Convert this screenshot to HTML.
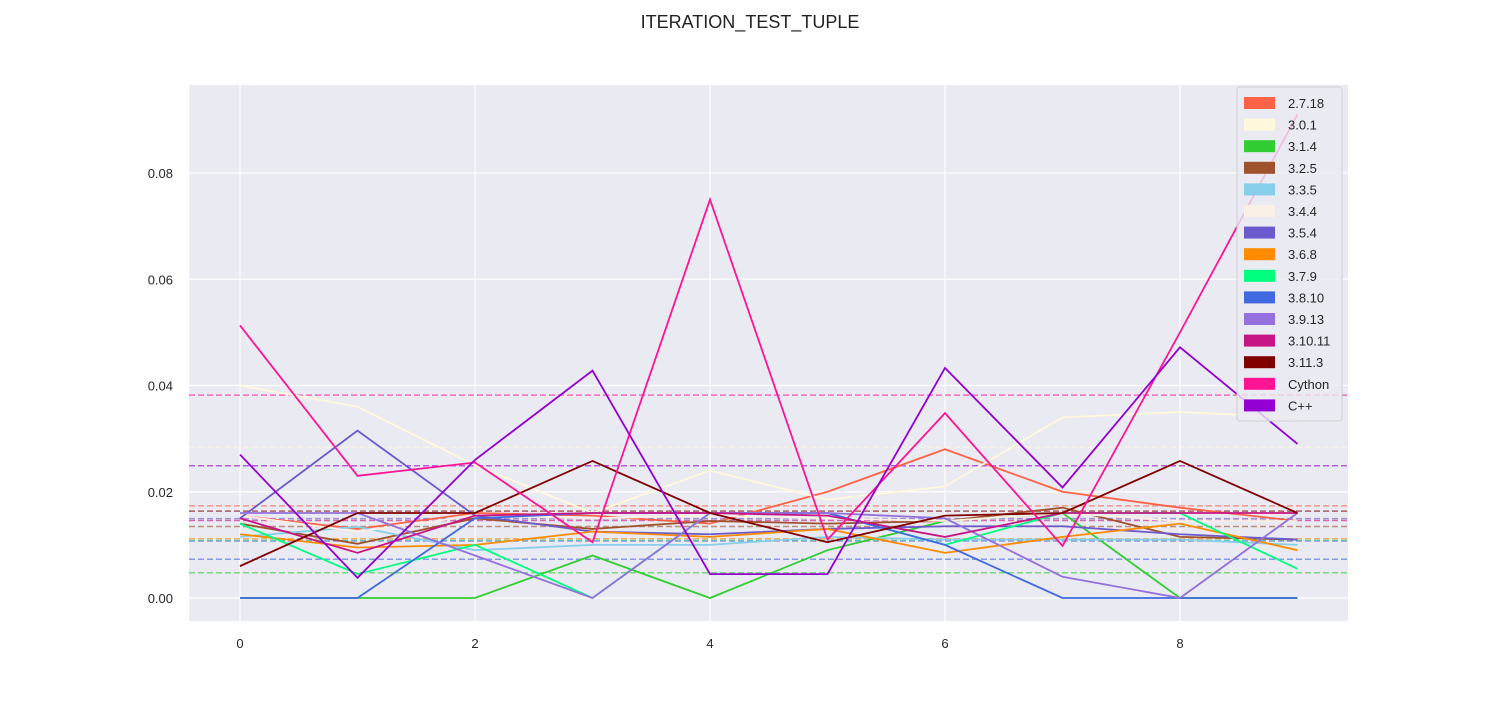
<!DOCTYPE html>
<html><head><meta charset="utf-8"><style>
body{margin:0;background:#fff;font-family:"Liberation Sans","DejaVu Sans",sans-serif;}
</style></head><body>
<svg id="chart" width="1500" height="700" xmlns="http://www.w3.org/2000/svg">
<text x="750" y="28" text-anchor="middle" font-size="18" fill="#222">ITERATION_TEST_TUPLE</text>
<rect x="189" y="85" width="1159" height="536" fill="#eaeaf2"/>
<g id="grid"></g><g id="means"></g><g id="lines"></g><g id="ticks"></g><g id="legend"></g>
</svg>
<script>
const names=["2.7.18","3.0.1","3.1.4","3.2.5","3.3.5","3.4.4","3.5.4","3.6.8","3.7.9","3.8.10","3.9.13","3.10.11","3.11.3","Cython","C++"];
const colors=["#ff6347","#fff8dc","#32cd32","#a0522d","#87ceeb","#faf0e6","#6a5acd","#ff8c00","#00ff7f","#4169e1","#9370db","#c71585","#800000","#ff1493","#9400d3"];
const s2718=[0.0155,0.013,0.016,0.0155,0.014,0.020,0.028,0.020,0.017,0.0145];
const s301=[0.040,0.036,0.025,0.016,0.024,0.0185,0.021,0.034,0.035,0.034];
const s314=[0,0,0,0.008,0,0.009,0.0145,0.016,0,0];
const s325=[0.014,0.0102,0.015,0.013,0.0145,0.014,0.0145,0.017,0.0115,0.011];
const s335=[0.0115,0.0134,0.009,0.010,0.010,0.0115,0.011,0.011,0.011,0.010];
const s344=[0.0155,0.0125,0.0155,0.015,0.0155,0.015,0.0145,0.016,0.0145,0.0145];
const s354=[0.015,0.0315,0.0155,0.0125,0.012,0.013,0.0135,0.0135,0.012,0.011];
const s368=[0.012,0.0095,0.010,0.0125,0.0115,0.013,0.0085,0.0115,0.014,0.009];
const s379=[0.014,0.0045,0.010,0,0.016,0.016,0.010,0.016,0.016,0.0055];
const s3810=[0,0,0.015,0.016,0.016,0.016,0.010,0,0,0];
const s3913=[0.016,0.016,0.008,0,0.016,0.016,0.015,0.004,0,0.016];
const s31011=[0.015,0.0085,0.0155,0.016,0.016,0.0155,0.0115,0.016,0.016,0.016];
const s3113=[0.006,0.016,0.016,0.0258,0.016,0.0105,0.0155,0.016,0.0258,0.016];
const sCython=[0.0513,0.023,0.0255,0.0105,0.075,0.011,0.0348,0.0098,0.050,0.091];
const sCpp=[0.027,0.0038,0.026,0.0428,0.0045,0.0045,0.0433,0.0208,0.0472,0.029];
const series=[s2718,s301,s314,s325,s335,s344,s354,s368,s379,s3810,s3913,s31011,s3113,sCython,sCpp];
const xTicks=[0,2,4,6,8];
const yTicks=[0,0.02,0.04,0.06,0.08];
const NS="http://www.w3.org/2000/svg";
const X=v=>240+v*117.5, Y=v=>598-v*5312.5;
function mk(tag,parent,attrs){const e=document.createElementNS(NS,tag);for(const k in attrs)e.setAttribute(k,attrs[k]);document.getElementById(parent).appendChild(e);return e;}
xTicks.forEach(t=>{
 const g=mk('line','grid',{x1:X(t),x2:X(t),y1:85,y2:621,stroke:'#fff','stroke-width':1.2});
 
 
 const l=mk('text','ticks',{x:X(t),y:648,'text-anchor':'middle','font-size':13,fill:'#262626'});l.textContent=t;
 
 
});
yTicks.forEach(t=>{
 const g=mk('line','grid',{x1:189,x2:1348,y1:Y(t),y2:Y(t),stroke:'#fff','stroke-width':1.2});
 
 
 const l=mk('text','ticks',{x:173,y:Y(t)+5,'text-anchor':'end','font-size':13,fill:'#262626'});l.textContent=t.toFixed(2);
 
 
});
series.forEach((s,i)=>{
 const m=s.reduce((a,b)=>a+b,0)/s.length;
 const d=mk('line','means',{x1:189,x2:1348,y1:Y(m),y2:Y(m),stroke:colors[i],'stroke-width':1.5,'stroke-dasharray':'6,3',opacity:0.6});
 
 
});
series.forEach((s,i)=>{
 const p=mk('polyline','lines',{points:s.map((v,j)=>X(j)+','+Y(v)).join(' '),fill:'none',stroke:colors[i],'stroke-width':1.8});
 
 
});
const lb=mk('rect','legend',{x:1237,y:87,width:105,height:334,rx:3,fill:'#eaeaf2',stroke:'#d0d0d0','fill-opacity':0.8});


names.forEach((n,i)=>{
 const y=103+i*21.6;
 const r=mk('rect','legend',{x:1244,y:y-6,width:31,height:12,fill:colors[i]});
 
 
 const t=mk('text','legend',{x:1288,y:y+5,'font-size':13,fill:'#262626'});t.textContent=n;
 
 
});
</script>
</body></html>
